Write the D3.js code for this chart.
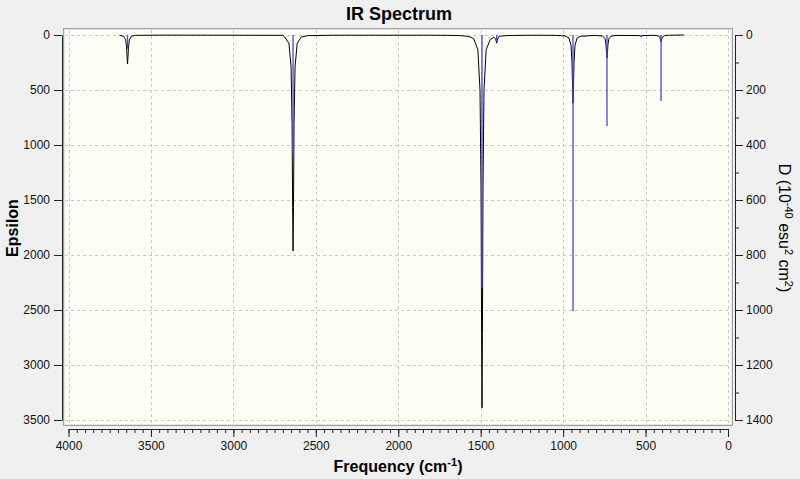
<!DOCTYPE html>
<html>
<head>
<meta charset="utf-8">
<script src="https://cdn.jsdelivr.net/npm/d3@7"></script>
<style>
  body { margin: 0; background: #f0f0f0; }
  svg { display: block; font-family: "Liberation Sans", Arial, sans-serif; }
</style>
</head>
<body>
<div id="chart"></div>
<script>
// peaks: frequency (cm-1) and D for the blue sticks
const stickFreq = [3642, 2638, 1492, 1403, 940, 867, 734, 528, 406];
const stickD    = [  50,  429,  920,   20, 1004,   5,  331,   8, 240];

// broadened epsilon curve, points read/estimated from the black line
const curveFreq = [3690, 3667, 3654, 3648, 3644.5, 3642, 3639.5, 3636, 3630, 3617, 3592, 3400,
  2700, 2688, 2663, 2650, 2644, 2640.5, 2638, 2635.5, 2632, 2626, 2613, 2588, 2550, 2400,
  1800, 1700, 1620, 1580, 1560, 1542, 1517, 1504, 1498, 1494.5, 1492, 1489.5, 1486, 1480, 1467, 1442,
  1420, 1409, 1405.5, 1403, 1400.5, 1397, 1391, 1378, 1350, 1300, 1200,
  1050, 990, 965, 952, 946, 942.5, 940, 937.5, 934, 928, 915, 890, 870, 867, 864, 850,
  800, 759, 746, 740, 736.5, 734, 731.5, 728, 722, 709, 680,
  540, 528, 516, 456, 431, 418, 412, 408.5, 406, 403.5, 400, 394, 381, 356, 267];
const curveEps = [3, 10, 39, 108, 211, 264, 211, 108, 39, 10, 3, 1,
  3, 19, 76, 291, 805, 1571, 1964, 1571, 805, 291, 76, 19, 6, 2,
  2, 3, 6, 12, 20, 34, 135, 505, 1390, 2712, 3390, 2712, 1390, 505, 135, 40,
  22, 36, 60, 74, 60, 36, 18, 10, 6, 4, 2,
  3, 8, 26, 95, 254, 496, 620, 496, 254, 95, 26, 10, 11, 13, 11, 6,
  4, 10, 33, 86, 168, 210, 168, 86, 33, 10, 4,
  5, 12, 5, 3, 5, 12, 27, 52, 64, 52, 27, 12, 5, 2, 0];

// ticks
const xMajor = [4000, 3500, 3000, 2500, 2000, 1500, 1000, 500, 0];
const epsTicks = [0, 500, 1000, 1500, 2000, 2500, 3000, 3500];
const dTicks = [0, 200, 400, 600, 800, 1000, 1200, 1400];

const width = 800, height = 479;

const x = d3.scaleLinear().domain([4000, 0]).range([68.5, 728]);
const yEps = d3.scaleLinear().domain([0, 3500]).range([35, 420]);
const yD = d3.scaleLinear().domain([0, 1400]).range([35, 420]);

const svg = d3.select("#chart").append("svg")
  .attr("width", width)
  .attr("height", height);

svg.append("rect").attr("width", width).attr("height", height).attr("fill", "#f0f0f0");

// plot frame
svg.append("rect")
  .attr("x", 63.5).attr("y", 28.5).attr("width", 669).attr("height", 397)
  .attr("fill", "#fffff7").attr("stroke", "#a0a0a0");
svg.append("rect")
  .attr("x", 64.5).attr("y", 29.5).attr("width", 667).attr("height", 395)
  .attr("fill", "none").attr("stroke", "#e4e4e4");

// grid
const grid = svg.append("g").attr("stroke", "#c8c8c8").attr("stroke-dasharray", "3,3");
grid.selectAll("line.v").data(xMajor).join("line")
  .attr("class", "v")
  .attr("x1", d => Math.round(x(d)) + 0.5).attr("x2", d => Math.round(x(d)) + 0.5)
  .attr("y1", 30).attr("y2", 425);
grid.selectAll("line.h").data(epsTicks).join("line")
  .attr("class", "h")
  .attr("x1", 65).attr("x2", 731)
  .attr("y1", d => Math.round(yEps(d)) + 0.5).attr("y2", d => Math.round(yEps(d)) + 0.5);

// axes
const fmt = d3.format("d");
const xAxis = d3.axisBottom(x).tickValues(xMajor).tickFormat(fmt).tickSize(8).tickSizeOuter(0).tickPadding(4);
const xMinor = d3.axisBottom(x).tickValues(d3.range(0, 4001, 50)).tickSize(4).tickFormat("").tickSizeOuter(0);
const yAxisL = d3.axisLeft(yEps).tickValues(epsTicks).tickFormat(fmt).tickSize(8).tickSizeOuter(0).tickPadding(4);
const yAxisR = d3.axisRight(yD).tickValues(dTicks).tickFormat(fmt).tickSize(8).tickSizeOuter(0).tickPadding(3);
const yMinorR = d3.axisRight(yD).tickValues(d3.range(100, 1400, 200)).tickSize(4).tickFormat("").tickSizeOuter(0);

svg.append("g").attr("transform", "translate(0,429)").call(xMinor);
svg.append("g").attr("transform", "translate(0,429)").call(xAxis);
svg.append("g").attr("transform", "translate(62,0)").call(yAxisL);
svg.append("g").attr("transform", "translate(735,0)").call(yMinorR);
svg.append("g").attr("transform", "translate(735,0)").call(yAxisR);

svg.selectAll(".tick text").attr("font-size", 12).attr("fill", "#111")
  .attr("font-family", "'Liberation Sans', Arial, sans-serif");
svg.selectAll(".domain, .tick line").attr("stroke", "#222");

// curve
const line = d3.line()
  .x((d, i) => x(curveFreq[i]))
  .y(d => yEps(d));
svg.append("path")
  .datum(curveEps)
  .attr("d", line)
  .attr("fill", "none")
  .attr("stroke", "#000")
  .attr("stroke-width", 1);

// sticks
svg.selectAll("line.stick").data(stickD).join("line")
  .attr("class", "stick")
  .attr("x1", (d, i) => x(stickFreq[i])).attr("x2", (d, i) => x(stickFreq[i]))
  .attr("y1", yD(0)).attr("y2", d => yD(d))
  .attr("stroke", "#4343f2")
  .attr("stroke-width", 1.3);

// titles
svg.append("text")
  .attr("x", 399).attr("y", 20)
  .attr("text-anchor", "middle")
  .attr("font-size", 18).attr("font-weight", "bold")
  .text("IR Spectrum");

const xl = svg.append("text")
  .attr("x", 398).attr("y", 472)
  .attr("text-anchor", "middle")
  .attr("font-size", 16).attr("font-weight", "bold");
xl.append("tspan").text("Frequency (cm");
xl.append("tspan").attr("font-size", 11).attr("dy", -6).text("-1");
xl.append("tspan").attr("dy", 6).text(")");

svg.append("text")
  .attr("transform", "translate(18,228) rotate(-90)")
  .attr("text-anchor", "middle")
  .attr("font-size", 16).attr("font-weight", "bold")
  .text("Epsilon");

const rl = svg.append("text")
  .attr("transform", "translate(779,228) rotate(90)")
  .attr("text-anchor", "middle")
  .attr("font-size", 16);
rl.append("tspan").text("D (10");
rl.append("tspan").attr("font-size", 11).attr("dy", -6).text("-40");
rl.append("tspan").attr("dy", 6).text(" esu");
rl.append("tspan").attr("font-size", 11).attr("dy", -6).text("2");
rl.append("tspan").attr("dy", 6).text(" cm");
rl.append("tspan").attr("font-size", 11).attr("dy", -6).text("2");
rl.append("tspan").attr("dy", 6).text(")");
</script>
</body>
</html>
